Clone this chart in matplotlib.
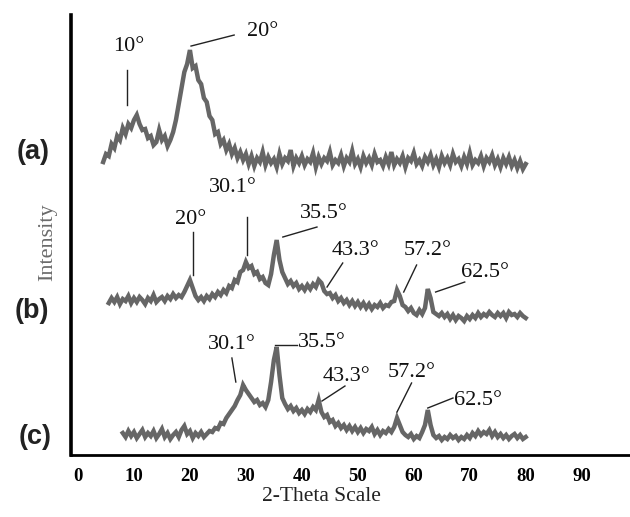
import numpy as np
import matplotlib
matplotlib.use("Agg")
import matplotlib.pyplot as plt

# XRD patterns, intensity in arbitrary units, sampled every 0.5 degree 2-theta
start_a = 4.5
intensity_a = [
    8, 16, 14, 26, 22, 34, 30, 42, 36, 46,
    42, 50, 55, 46, 40, 41, 32, 34, 25, 28,
    40, 30, 34, 24, 30, 38, 50, 66, 82, 98,
    106, 120, 102, 104, 90, 86, 72, 68, 54, 50,
    36, 38, 26, 30, 20, 26, 16, 22, 12, 18,
    10, 16, 6, 14, 4, 12, 8, 18, 5, 13,
    7, 11, 3, 16, 6, 12, 9, 20, 4, 12,
    7, 14, 5, 11, 8, 17, 3, 13, 6, 12,
    9, 18, 5, 10, 7, 15, 4, 12, 8, 19,
    6, 11, 3, 14, 7, 12, 5, 16, 8, 10,
    4, 13, 6, 18, 5, 11, 7, 14, 3, 12,
    9, 17, 6, 10, 4, 13, 8, 15, 5, 11,
    3, 14, 7, 12, 5, 16, 8, 11, 4, 13,
    6, 17, 5, 10, 7, 14, 4, 12, 8, 15,
    5, 11, 3, 12, 6, 13, 4, 10, 2, 9,
    1, 6,
]

start_b = 5.5
intensity_b = [
    7, 12, 8, 13, 6, 11, 9, 14, 7, 12,
    8, 13, 10, 6, 12, 9, 15, 8, 11, 13,
    9, 14, 11, 16, 12, 15, 13, 18, 24, 30,
    22, 14, 10, 13, 9, 14, 11, 16, 13, 18,
    15, 20, 17, 24, 22, 30, 28, 38, 40, 48,
    42, 44, 36, 38, 31, 33, 27, 25, 36, 55,
    70, 50, 38, 32, 26, 29, 24, 27, 21, 24,
    20, 25, 21, 26, 23, 30, 27, 19, 16, 17,
    12, 15, 9, 12, 7, 10, 5, 9, 4, 8,
    3, 7, 2, 6, 1, 5, 3, 7, 2, 5,
    4, 8, 9, 20, 14, 5, 3, -1, 2, -3,
    -5, 0, -4, 2, 21, 12, -2, -4, -6, -3,
    -7, -4, -9, -5, -10, -6, -8, -11, -6, -9,
    -5, -8, -3, -7, -4, -6, -2, -5, -7, -3,
    -6, -3, -8, -2, -5, -4, -7, -3, -6, -8,
]

start_c = 8.0
intensity_c = [
    7, 3, 9, 4, 8, 2, 6, 10, 3, 7,
    4, 9, 2, 6, 11, 3, 7, 1, 5, 8,
    3, 10, 14, 6, 9, 2, 7, 4, 8, 3,
    6, 9, 8, 12, 11, 17, 16, 22, 26, 30,
    34, 40, 45, 55, 50, 46, 42, 38, 40, 35,
    37, 33, 40, 58, 80, 93, 65, 42, 36, 31,
    34, 29, 32, 27, 30, 26, 31, 28, 33, 30,
    40, 28, 23, 25, 18, 20, 14, 17, 12, 15,
    10, 14, 9, 13, 8, 12, 7, 11, 9, 13,
    6, 10, 5, 9, 7, 11, 8, 13, 22, 15,
    8, 5, 3, 6, 1, 4, 2, 8, 15, 30,
    15, 5, 2, 4, 0, 3, 1, 5, 2, 4,
    0, 3, 1, 5, 2, 7, 4, 9, 5, 8,
    6, 10, 4, 8, 3, 6, 2, 5, 1, 4,
    6, 2, 5, 1, 3,
]

# vertical offsets that stack the three patterns
offsets = {"a": 285, "b": 145, "c": 15}

x_ticks = [0, 10, 20, 30, 40, 50, 60, 70, 80, 90]
panel_labels = ["(a)", "(b)", "(c)"]

# peak labels: (text, text position, leader line start, leader line end, ha)
peaks_a = [
    ("10°", (9.1, 409), (8.75, 385), (8.75, 350), "center"),
    ("20°", (33.0, 424), (20.2, 409), (27.9, 420), "center"),
]
peaks_b = [
    ("20°", (20.2, 236), (20.5, 223), (20.5, 180), "center"),
    ("30.1°", (27.7, 268), (30.2, 238), (30.2, 200), "center"),
    ("35.5°", (43.9, 242), (36.6, 218), (42.7, 228), "center"),
    ("43.3°", (49.5, 205), (44.5, 168), (47.3, 192), "center"),
    ("57.2°", (62.5, 205), (58.2, 163), (60.5, 190), "center"),
    ("62.5°", (72.7, 183), (63.9, 163), (69.1, 173), "center"),
]
peaks_c = [
    ("30.1°", (27.5, 111), (27.5, 97), (28.2, 73), "center"),
    ("35.5°", (39.3, 113), (35.2, 110), (39.1, 110), "left"),
    ("43.3°", (48.0, 79), (43.6, 54), (47.7, 69), "center"),
    ("57.2°", (59.6, 83), (57.0, 43), (59.6, 72), "center"),
    ("62.5°", (71.4, 55), (62.5, 47), (67.0, 57), "center"),
]

serif = "Liberation Serif"
trace_color = "#5e5e5e"

fig = plt.figure(figsize=(6.3, 5.17), dpi=100)
ax = fig.add_axes([0.1127, 0.1199, 0.887, 0.851])

for key, start, vals in (("a", start_a, intensity_a),
                         ("b", start_b, intensity_b),
                         ("c", start_c, intensity_c)):
    vals = np.asarray(vals, dtype=float)
    tt = start + 0.5 * np.arange(len(vals))
    ax.plot(tt, vals + offsets[key], color=trace_color, lw=3.2,
            solid_joinstyle="miter", alpha=0.95)

for group in (peaks_a, peaks_b, peaks_c):
    for text, tpos, p0, p1, ha in group:
        ax.plot([p0[0], p1[0]], [p0[1], p1[1]], color="#222222", lw=1.0)
        ax.text(tpos[0], tpos[1], text, ha=ha, va="center",
                fontsize=16, family=serif, color="#111111")

ax.set_xlim(-1.25, 98.6)
ax.set_ylim(0, 440)
ax.set_xticks(x_ticks)
ax.set_xticklabels([str(t) for t in x_ticks], family=serif,
                   fontweight="bold", fontsize=13.5)
ax.tick_params(axis="x", length=0, pad=9)
ax.set_yticks([])
for side in ("top", "right"):
    ax.spines[side].set_visible(False)
ax.spines["left"].set_linewidth(2.6)
ax.spines["bottom"].set_linewidth(2.0)

fig.text(0.511, 0.039, "2-Theta Scale", ha="center", va="center",
         fontsize=15.5, family=serif, color="#222222")
fig.text(0.075, 0.532, "Intensity", ha="center", va="center", rotation=90,
         fontsize=16, family=serif, color="#6a6a6a")

for label, (fx, fy) in zip(panel_labels,
                           [(0.053, 0.706), (0.051, 0.398), (0.056, 0.155)]):
    fig.text(fx, fy, label, ha="center", va="center", fontsize=19.5,
             fontweight="bold", family="Liberation Sans", color="#222222")

fig.savefig("out.png", dpi=100)
